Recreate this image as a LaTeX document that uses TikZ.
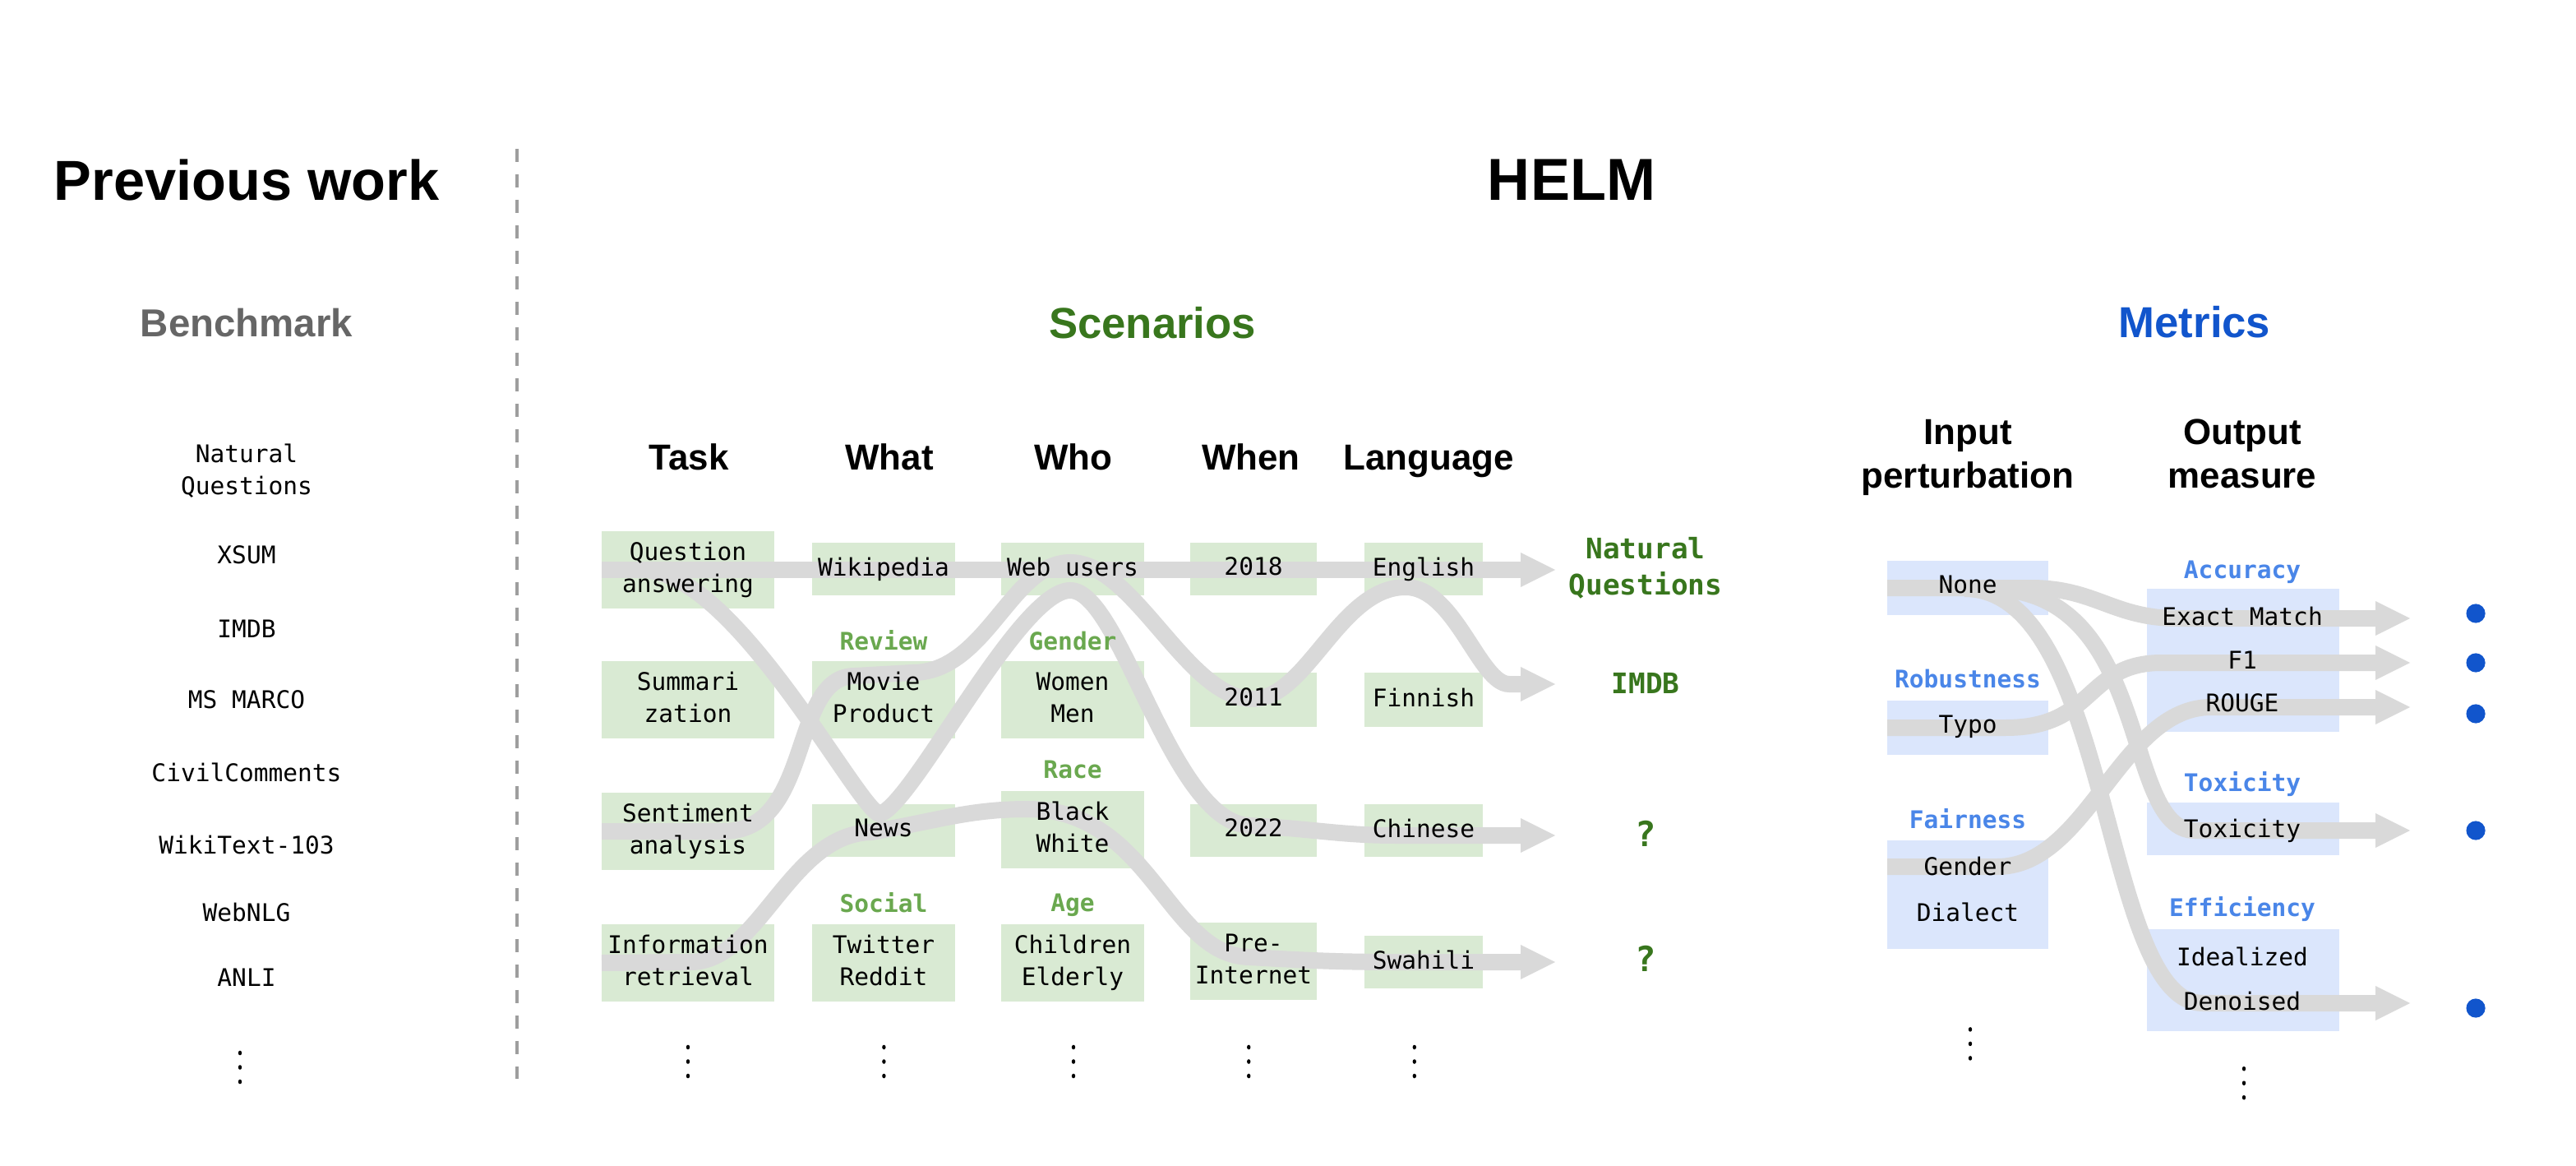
\documentclass[tikz,border=0pt]{standalone}
\usepackage{fontspec}
\setmainfont{Liberation Sans}
\newfontfamily\mono{DejaVu Sans Mono}
\definecolor{gfill}{HTML}{D9EAD3}
\definecolor{bfill}{HTML}{DBE6FC}
\definecolor{bandc}{HTML}{D9D9D9}
\definecolor{dgreen}{HTML}{38761D}
\definecolor{lgreen}{HTML}{6AA84F}
\definecolor{dblue}{HTML}{1155CC}
\definecolor{lblue}{HTML}{4A86E8}
\definecolor{gtext}{HTML}{666666}
\definecolor{sepc}{HTML}{9E9E9E}
\newcommand\ms{\rule[-1.7pt]{0pt}{7.8pt}}
\newcommand\mbs{\rule[-2pt]{0pt}{9.14pt}}
\newcommand\qs{\rule[-2.5pt]{0pt}{11.4pt}}
\newcommand\hs{\rule[-2.7pt]{0pt}{11.65pt}}
\begin{document}
\begin{tikzpicture}[x=0.02cm,y=0.02cm,
  gbox/.style={rectangle, fill=gfill, inner sep=0pt, outer sep=0pt},
  bbox/.style={rectangle, fill=bfill, inner sep=0pt, outer sep=0pt},
  tx/.style={font=\mono\fontsize{8.4}{11}\selectfont, align=center, inner sep=0pt},
  glab/.style={font=\mono\fontsize{8.4}{11}\selectfont\bfseries, text=lgreen, inner sep=0pt},
  blab/.style={font=\mono\fontsize{8.4}{11}\selectfont\bfseries, text=lblue, inner sep=0pt},
  rlab/.style={font=\mono\fontsize{9.8}{12.5}\selectfont\bfseries, text=dgreen, align=center, inner sep=0pt},
  qlab/.style={font=\mono\fontsize{12}{14}\selectfont\bfseries, text=dgreen, inner sep=0pt},
  ttl/.style={font=\fontsize{20}{24}\selectfont\bfseries, inner sep=0pt, anchor=base},
  sec/.style={font=\fontsize{15}{18}\selectfont\bfseries, inner sep=0pt, anchor=base},
  hd/.style={font=\fontsize{12.5}{15.25}\selectfont\bfseries, inner sep=0pt, align=center},
  band/.style={draw=bandc, line width=0.2cm},
  sepline/.style={draw=sepc, line width=0.04cm, dash pattern=on 0.16cm off 0.15cm},
  bdot/.style={circle, fill=dblue, inner sep=0pt, minimum size=0.232cm},
  ahead/.pic={\fill[bandc] (-1,10.5) -- (20,0) -- (-1,-10.5) -- cycle;},
  vdots/.pic={\fill[black] (0,8.75) circle[x radius=1.1, y radius=1.4] (0,0) circle[x radius=1.1, y radius=1.4] (0,-8.75) circle[x radius=1.1, y radius=1.4];}
]
\useasboundingbox (0,0) rectangle (1567,-709);

% ---------------- titles ----------------
\node[ttl, font=\fontsize{19.5}{24}\selectfont\bfseries] (prev) at (150,-122) {Previous work};
\node[ttl, font=\fontsize{20.5}{24}\selectfont\bfseries] (helm) at (956,-122) {HELM};
\node[sec, font=\fontsize{13.5}{16}\selectfont\bfseries, text=gtext] (bench) at (150,-204.6) {Benchmark};
\node[sec, text=dgreen] (scen) at (701,-205.8) {Scenarios};
\node[sec, text=dblue] (metr) at (1335,-205.5) {Metrics};

% separator
\coordinate (sepTop) at (314.5,-90.5);
\coordinate (sepBot) at (314.5,-656);
\draw[sepline] (sepTop) -- (sepBot);

% ---------------- benchmark list ----------------
\node[tx] (b-nq) at (150,-287) {\ms Natural\\\ms Questions};
\node[tx] (b-xsum) at (150,-339) {\ms XSUM};
\node[tx] (b-imdb) at (150,-383.7) {\ms IMDB};
\node[tx] (b-msm) at (150,-427) {\ms MS MARCO};
\node[tx] (b-cc) at (150,-471) {\ms CivilComments};
\node[tx] (b-wt) at (150,-515) {\ms WikiText-103};
\node[tx] (b-web) at (150,-556) {\ms WebNLG};
\node[tx] (b-anli) at (150,-596) {\ms ANLI};
\pic at (146,-649) {vdots};

% ---------------- scenario headers ----------------
\node[hd, anchor=base] (h-task) at (419,-285.8) {Task};
\node[hd, anchor=base] (h-what) at (541,-285.8) {What};
\node[hd, anchor=base] (h-who) at (653,-285.8) {Who};
\node[hd, anchor=base] (h-when) at (761,-285.8) {When};
\node[hd, anchor=base] (h-lang) at (869,-285.8) {Language};

% ---------------- scenario boxes ----------------
\node[gbox, minimum width=2.10cm, minimum height=0.94cm] (qa) at (418.5,-346.5) {};
\node[gbox, minimum width=2.10cm, minimum height=0.94cm] (summ) at (418.5,-425.5) {};
\node[gbox, minimum width=2.10cm, minimum height=0.94cm] (sent) at (418.5,-505.5) {};
\node[gbox, minimum width=2.10cm, minimum height=0.94cm] (info) at (418.5,-585.5) {};

\node[gbox, minimum width=1.74cm, minimum height=0.64cm] (wiki) at (537.5,-346) {};
\node[gbox, minimum width=1.74cm, minimum height=0.94cm] (movie) at (537.5,-425.5) {};
\node[gbox, minimum width=1.74cm, minimum height=0.64cm] (news) at (537.5,-505) {};
\node[gbox, minimum width=1.74cm, minimum height=0.94cm] (social) at (537.5,-585.5) {};

\node[gbox, minimum width=1.74cm, minimum height=0.64cm] (webu) at (652.5,-346) {};
\node[gbox, minimum width=1.74cm, minimum height=0.94cm] (gend) at (652.5,-425.5) {};
\node[gbox, minimum width=1.74cm, minimum height=0.94cm] (race) at (652.5,-504.5) {};
\node[gbox, minimum width=1.74cm, minimum height=0.94cm] (age) at (652.5,-585.5) {};

\node[gbox, minimum width=1.54cm, minimum height=0.64cm] (y18) at (762.5,-346) {};
\node[gbox, minimum width=1.54cm, minimum height=0.66cm] (y11) at (762.5,-425.5) {};
\node[gbox, minimum width=1.54cm, minimum height=0.64cm] (y22) at (762.5,-505) {};
\node[gbox, minimum width=1.54cm, minimum height=0.94cm] (pre) at (762.5,-584.5) {};

\node[gbox, minimum width=1.44cm, minimum height=0.64cm] (eng) at (866,-346) {};
\node[gbox, minimum width=1.44cm, minimum height=0.66cm] (fin) at (866,-425.5) {};
\node[gbox, minimum width=1.44cm, minimum height=0.64cm] (chi) at (866,-505) {};
\node[gbox, minimum width=1.44cm, minimum height=0.64cm] (swa) at (866,-585) {};

% ---------------- metric boxes ----------------
\node[bbox, minimum width=1.96cm, minimum height=0.66cm] (none) at (1197,-357.5) {};
\node[bbox, minimum width=1.96cm, minimum height=0.66cm] (typo) at (1197,-442.5) {};
\node[bbox, minimum width=1.96cm, minimum height=1.32cm] (fair) at (1197,-544) {};
\node[bbox, minimum width=2.34cm, minimum height=1.74cm] (acc) at (1364.5,-401.5) {};
\node[bbox, minimum width=2.34cm, minimum height=0.64cm] (tox) at (1364.5,-504) {};
\node[bbox, minimum width=2.34cm, minimum height=1.24cm] (eff) at (1364.5,-596) {};

% ---------------- arrow bases ----------------
\coordinate (aA) at (926,-346.5);
\coordinate (aB) at (926,-416);
\coordinate (aC) at (926,-508);
\coordinate (aD) at (926,-585);
\coordinate (aEM) at (1446,-376);
\coordinate (aF1) at (1446,-403);
\coordinate (aRG) at (1446,-430);
\coordinate (aTX) at (1446,-505);
\coordinate (aDN) at (1446,-610);
\coordinate (gIn) at (1148,-527);

% ---------------- scenario bands ----------------
\draw[band] (qa.west) -- (aA);
\draw[band] (sent.west) -- (440,-505.5) .. controls (495,-505.5) and (480,-411) .. (520,-411)
  -- (555,-409) .. controls (600,-409) and (615,-342) .. (651,-342)
  .. controls (690,-342) and (722,-425) .. (762,-425)
  .. controls (795,-425) and (815,-357) .. (855,-357)
  .. controls (885,-357) and (900,-416) .. (918,-416) -- (aB);
\draw[band] (395,-347) .. controls (450,-353) and (522,-492) .. (535,-495)
  .. controls (555,-490) and (620,-359) .. (651,-359)
  .. controls (682,-359) and (712,-500) .. (760,-502)
  .. controls (800,-504) and (815,-508) .. (850,-508) -- (aC);
\draw[band] (info.west) -- (420,-585) .. controls (462,-585) and (480,-507) .. (530,-506)
  .. controls (570,-499) and (590,-492) .. (625,-492)
  .. controls (700,-492) and (710,-581) .. (760,-582)
  .. controls (795,-584) and (815,-585) .. (850,-585) -- (aD);
\foreach \a in {aA,aB,aC,aD} \pic at (\a) {ahead};

% ---------------- metric bands ----------------
\draw[band] (none.west) -- (1235,-357.5) .. controls (1275,-357.5) and (1285,-376) .. (1325,-376) -- (aEM);
\draw[band] (1210,-358) .. controls (1310,-358) and (1290,-505) .. (1335,-505) -- (aTX);
\draw[band] (1195,-358) .. controls (1285,-358) and (1278,-610) .. (1340,-610) -- (aDN);
\draw[band] (typo.west) -- (1220,-442.5) .. controls (1275,-442.5) and (1268,-403) .. (1315,-403) -- (aF1);
\draw[band] (gIn) -- (1215,-527) .. controls (1270,-527) and (1290,-430) .. (1345,-430) -- (aRG);
\foreach \a in {aEM,aF1,aRG,aTX,aDN} \pic at (\a) {ahead};

% ---------------- scenario texts ----------------
\node[tx] (t-qa) at (qa) {\ms Question\\\ms answering};
\node[tx] (t-summ) at (summ) {\ms Summari\\\ms zation};
\node[tx] (t-sent) at (sent) {\ms Sentiment\\\ms analysis};
\node[tx] (t-info) at (info) {\ms Information\\\ms retrieval};

\node[tx] (t-wiki) at (wiki) {\ms Wikipedia};
\node[glab] (l-review) at (537.5,-390.5) {\ms Review};
\node[tx] (t-movie) at (movie) {\ms Movie\\\ms Product};
\node[tx] (t-news) at (news) {\ms News};
\node[glab] (l-social) at (537.5,-550) {\ms Social};
\node[tx] (t-social) at (social) {\ms Twitter\\\ms Reddit};

\node[tx] (t-webu) at (webu) {\ms Web users};
\node[glab] (l-gender) at (652.5,-391) {\ms Gender};
\node[tx] (t-gend) at (gend) {\ms Women\\\ms Men};
\node[glab] (l-race) at (652.5,-469.5) {\ms Race};
\node[tx] (t-race) at (race) {\ms Black\\\ms White};
\node[glab] (l-age) at (652.5,-550.5) {\ms Age};
\node[tx] (t-age) at (age) {\ms Children\\\ms Elderly};

\node[tx] (t-y18) at (y18) {\ms 2018};
\node[tx] (t-y11) at (y11) {\ms 2011};
\node[tx] (t-y22) at (y22) {\ms 2022};
\node[tx] (t-pre) at (pre) {\ms Pre-\\\ms Internet};

\node[tx] (t-eng) at (eng) {\ms English};
\node[tx] (t-fin) at (fin) {\ms Finnish};
\node[tx] (t-chi) at (chi) {\ms Chinese};
\node[tx] (t-swa) at (swa) {\ms Swahili};

\node[rlab] (r-nq) at (1001,-346) {\mbs Natural\\\mbs Questions};
\node[rlab] (r-imdb) at (1001,-417) {\mbs IMDB};
\node[qlab] (r-q1) at (1001,-509) {\qs ?};
\node[qlab] (r-q2) at (1001,-585) {\qs ?};

\foreach \x in {418.5,537.7,653,759.6,860.4} \pic at (\x,-645.5) {vdots};

% ---------------- metric texts ----------------
\node[hd] (h-in) at (1197,-278) {\hs Input\\\hs perturbation};
\node[hd] (h-out) at (1364,-278) {\hs Output\\\hs measure};

\node[tx] (t-none) at (1197,-357) {\ms None};
\node[blab] (l-rob) at (1197,-414) {\ms Robustness};
\node[tx] (t-typo) at (1197,-442) {\ms Typo};
\node[blab] (l-fair) at (1197,-499) {\ms Fairness};
\node[tx] (t-gen) at (1197,-528) {\ms Gender};
\node[tx] (t-dia) at (1197,-556) {\ms Dialect};

\node[blab] (l-acc) at (1364,-348) {\ms Accuracy};
\node[tx] (t-em) at (1364,-376) {\ms Exact Match};
\node[tx] (t-f1) at (1364,-403) {\ms F1};
\node[tx] (t-rouge) at (1364,-429) {\ms ROUGE};
\node[blab] (l-tox) at (1364,-477) {\ms Toxicity};
\node[tx] (t-tox) at (1364,-505) {\ms Toxicity};
\node[blab] (l-eff) at (1364,-553) {\ms Efficiency};
\node[tx] (t-ide) at (1364,-583) {\ms Idealized};
\node[tx] (t-den) at (1364,-610) {\ms Denoised};

\pic at (1198.5,-634.7) {vdots};
\pic at (1365,-658.6) {vdots};

\node[bdot] (dot1) at (1506,-373) {};
\node[bdot] (dot2) at (1506,-403) {};
\node[bdot] (dot3) at (1506,-434) {};
\node[bdot] (dot4) at (1506,-505) {};
\node[bdot] (dot5) at (1506,-613) {};
\end{tikzpicture}
\end{document}
